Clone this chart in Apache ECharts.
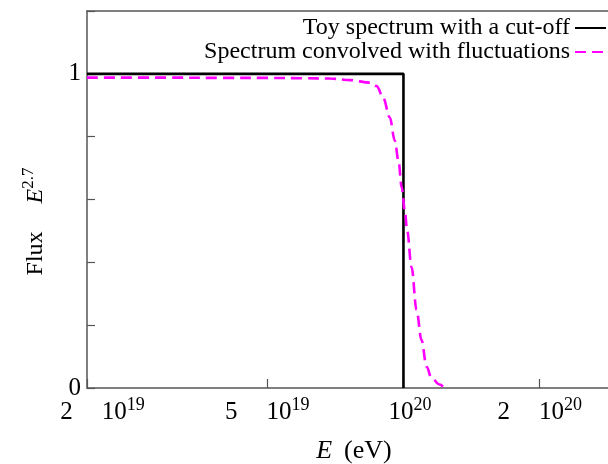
<!DOCTYPE html>
<html><head><meta charset="utf-8">
<script src="https://cdn.jsdelivr.net/npm/echarts@6/dist/echarts.min.js"></script>
<style>html,body{margin:0;padding:0;background:#fff}#c{width:608px;height:464px}</style>
</head><body><div id="c"></div>
<script>
// Energies in eV, flux (scaled by E^2.7)
const toyE = [2e19, 1e20, 1e20];
const toyFlux = [1, 1, 0];
const convE = [2e19, 3e19, 4e19, 5e19, 6e19, 6.89e19, 7.62e19, 8.43e19, 8.73e19, 9.02e19, 9.33e19, 9.57e19, 9.75e19, 9.91e19, 1.007e20, 1.019e20, 1.042e20, 1.069e20, 1.096e20, 1.125e20, 1.153e20, 1.202e20, 1.233e20];
const convFlux = [0.988, 0.988, 0.987, 0.987, 0.986, 0.985, 0.980, 0.972, 0.961, 0.924, 0.861, 0.787, 0.723, 0.639, 0.565, 0.501, 0.385, 0.248, 0.153, 0.068, 0.032, 0.011, 0.0];
const seriesNames = ['Toy spectrum with a cut-off', 'Spectrum convolved with fluctuations'];
const xTickValues = [2e19, 5e19, 1e20, 2e20];
const xTickMantissa = ['2', '5', '', '2'];
const xTickExponent = ['19', '19', '20', '20'];
const yTickLabels = {0: '0', 1: '1'};
const xMin = 2e19, xMax = 2.83e20, yMin = 0, yMax = 1.2, yStep = 0.2;

const FONT = 'Liberation Serif';
const lg = Math.log10;
const chart = echarts.init(document.getElementById('c'), null, {renderer: 'canvas'});
const rich = {
  n: {fontSize: 25, fontFamily: FONT, color: '#000'},
  N: {fontSize: 26, fontFamily: FONT, color: '#000'},
  i: {fontSize: 26, fontFamily: FONT, color: '#000', fontStyle: 'italic'},
  yn: {fontSize: 24, fontFamily: FONT, color: '#000'},
  yi: {fontSize: 24, fontFamily: FONT, color: '#000', fontStyle: 'italic'},
  ys: {fontSize: 17, fontFamily: FONT, color: '#000', verticalAlign: 'bottom', padding: [0, 0, 14, 0]},
  g: {width: 29},
  G: {width: 28},
  h: {width: 12},
  p: {width: 31},
  q: {width: 13},
  s: {fontSize: 18, fontFamily: FONT, color: '#000', verticalAlign: 'bottom', padding: [0, 0, 15, 0]}
};
const tickLogs = xTickValues.map(lg);
chart.setOption({
  animation: false,
  backgroundColor: '#fff',
  grid: {left: 87, right: 0, top: 11, bottom: 76, show: false, containLabel: false, outerBoundsMode: 'none'},
  legend: {
    orient: 'vertical', right: 1, top: 16, align: 'right', padding: 0, itemGap: 0,
    itemWidth: 31, itemHeight: 10,
    itemStyle: {opacity: 0},
    textStyle: {fontFamily: FONT, fontSize: 24, color: '#000', lineHeight: 21},
    data: seriesNames
  },
  xAxis: [{
    type: 'value', min: lg(xMin), max: lg(xMax),
    axisLine: {lineStyle: {color: '#555', width: 1.5}},
    axisTick: {inside: true, length: 9, lineStyle: {color: '#555', width: 1.2}, customValues: tickLogs},
    splitLine: {show: false},
    axisLabel: {
      customValues: tickLogs, margin: 8, rich: rich,
      formatter: function (v) {
        let k = 0, best = 1e9;
        tickLogs.forEach(function (t, j) { if (Math.abs(t - v) < best) { best = Math.abs(t - v); k = j; } });
        const m = xTickMantissa[k];
        const pre = k === 0 ? '{p|}' : '';
        if (!m) return '{q|}{n|10}{s|' + xTickExponent[k] + '}';
        return pre + '{n|' + m + '}{g|}{n|10}{s|' + xTickExponent[k] + '}';
      }
    },
    name: '{i|E}{h|}{N|(eV)}', nameLocation: 'middle', nameGap: 50,
    nameTextStyle: {rich: rich, padding: [0, 0, 0, 13]}
  }, {
    type: 'value', position: 'top', min: lg(xMin), max: lg(xMax),
    axisLine: {show: true, lineStyle: {color: '#555', width: 1.5}},
    axisTick: {show: false}, axisLabel: {show: false}, splitLine: {show: false}
  }],
  yAxis: {
    type: 'value', min: yMin, max: yMax, interval: yStep,
    axisLine: {lineStyle: {color: '#555', width: 1.5}},
    axisTick: {inside: true, length: 8, lineStyle: {color: '#555', width: 1.2}},
    splitLine: {show: false},
    axisLabel: {
      fontFamily: FONT, fontSize: 25, color: '#000', margin: 6,
      formatter: function (v) { const r = Math.round(v * 10) / 10; return yTickLabels[r] !== undefined ? yTickLabels[r] : ''; }
    },
    name: '{yn|Flux}{G|}{yi|E}{ys|2.7}', nameLocation: 'middle', nameGap: 36,
    nameTextStyle: {rich: rich, padding: [0, 44, 0, 0]}
  },
  series: [
    {
      name: seriesNames[0], type: 'line', symbol: 'none', clip: true,
      lineStyle: {color: '#000', width: 2.6},
      itemStyle: {color: '#000'},
      data: toyE.map(function (e, i) { return [lg(e), toyFlux[i]]; })
    },
    {
      name: seriesNames[1], type: 'line', symbol: 'none', clip: true,
      smooth: 0.35, smoothMonotone: 'x',
      lineStyle: {color: '#ff00ff', width: 2.6, type: [11, 6]},
      itemStyle: {color: '#ff00ff'},
      data: convE.map(function (e, i) { return [lg(e), convFlux[i]]; })
    }
  ]
});
</script></body></html>
